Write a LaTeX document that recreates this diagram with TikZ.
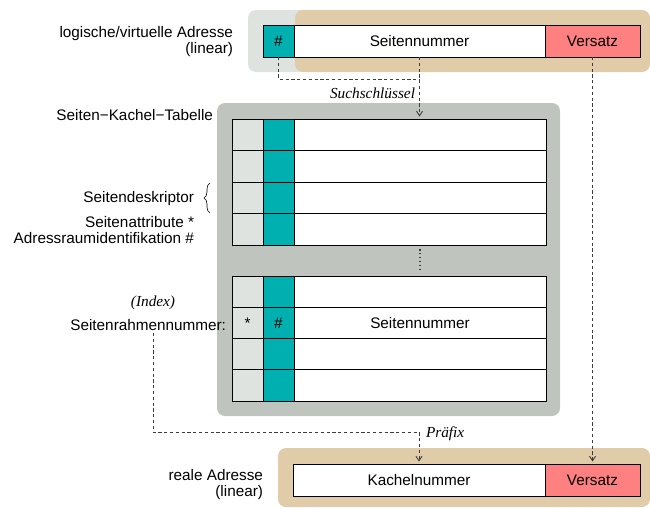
\documentclass[tikz,border=0pt]{standalone}
\usepackage{fontspec}
\setmainfont{Liberation Sans}
\newfontfamily\serifit{Liberation Serif}
\usetikzlibrary{calc,arrows.meta,decorations.pathreplacing}
\definecolor{teal}{HTML}{00AFAF}
\definecolor{salmon}{HTML}{FF8080}
\definecolor{tan}{HTML}{E0CCA8}
\definecolor{tablegray}{HTML}{C0C4BE}
\definecolor{lightgray}{HTML}{DFE3E0}
\definecolor{dashgray}{HTML}{3C3C3C}
\begin{document}
\begin{tikzpicture}[x=1pt,y=-1pt,
  font=\fontsize{15.3}{16}\selectfont,
  cell/.style={draw=black, line width=0.8pt, anchor=north west, inner sep=0pt, outer sep=0pt, minimum height=32pt},
  trow/.style={cell, minimum height=31.5pt},
  lrow/.style={cell, minimum height=31.25pt},
  conn/.style={draw=dashgray, line width=0.9pt, dash pattern=on 3.2pt off 2.6pt},
  tip/.style={-{Straight Barb[length=4.5pt,width=6pt,line width=0.9pt]}, shorten >=2.5pt},
  lbl/.style={inner sep=0pt, outer sep=0pt},
  it/.style={lbl, font=\fontsize{15.3}{16}\selectfont\serifit\itshape}
]
\useasboundingbox (0,0) rectangle (650,507);

% background boxes
\fill[lightgray, rounded corners=8pt] (248,10) rectangle (310,72);
\fill[tan, rounded corners=8pt] (295,10) rectangle (650,72);
\fill[tablegray, rounded corners=8pt] (217,103) rectangle (560,416);
\fill[tan, rounded corners=8pt] (278,448) rectangle (650,507);

% logical address
\node[cell, fill=teal, minimum width=31pt] (aH) at (263,25) {\#};
\node[cell, fill=white, minimum width=251pt] (aS) at (294,25) {Seitennummer};
\node[cell, fill=salmon, minimum width=95pt] (aV) at (545,25) {Versatz};

% upper table group
\foreach \i/\y in {1/119, 2/150.5, 3/182, 4/213.5} {
  \node[trow, fill=lightgray, minimum width=31pt] (u\i a) at (232,\y) {};
  \node[trow, fill=teal, minimum width=31pt] (u\i b) at (263,\y) {};
  \node[trow, fill=white, minimum width=252pt] (u\i c) at (294,\y) {};
}
% lower table group
\foreach \i/\y in {1/276, 2/307.25, 3/338.5, 4/369.75} {
  \node[lrow, fill=lightgray, minimum width=31pt] (l\i a) at (232,\y) {};
  \node[lrow, fill=teal, minimum width=31pt] (l\i b) at (263,\y) {};
  \node[lrow, fill=white, minimum width=252pt] (l\i c) at (294,\y) {};
}
\node at (l2a.center) {*};
\node at (l2b.center) {\#};
\node at (l2c.center) {Seitennummer};

% ellipsis between groups
\draw[dashgray, line width=1.3pt, dash pattern=on 1.5pt off 2.4pt] (u4c.south |- 0,249) -- (u4c.south |- 0,272);

% real address
\node[cell, fill=white, minimum width=252pt] (bK) at (293,464) {Kachelnummer};
\node[cell, fill=salmon, minimum width=95pt] (bV) at (545,464) {Versatz};

% labels
\node[lbl, align=right, anchor=east] (lva) at (233,42) {logische/virtuelle Adresse\\(linear)};
\node[lbl, anchor=east] (skt) at (213,115) {Seiten\textminus Kachel\textminus Tabelle};
\node[lbl, anchor=east] (sd) at (194,199) {Seitendeskriptor};
\draw[line width=0.6pt, decorate, decoration={brace, amplitude=6pt}] (210,213) -- (210,183);
\node[lbl, anchor=east] (sa) at (194,222) {Seitenattribute *};
\node[lbl, anchor=east] (ari) at (194,238) {Adressraumidentifikation \#};
\node[it] (idx) at (153,303) {(Index)};
\node[lbl, anchor=east] (srn) at (226,325) {Seitenrahmennummer:};
\node[lbl, align=right, anchor=east] (ra) at (263,485) {reale Adresse\\(linear)};

% connectors
\draw[conn] (aH.south) |- ($(aS.south)+(0,22)$);
\draw[conn, tip] (aS.south) -- (aS.south |- u1c.north);
\node[it, anchor=east] (such) at (415,93) {Suchschlüssel};
\draw[conn, tip] (aV.south) -- (bV.north);
\coordinate (p0) at (153,333);
\draw[conn, tip] (p0) |- ($(bK.north)+(0,-32)$) -- (bK.north);
\node[it, anchor=west] (praef) at (426,434) {Präfix};
\end{tikzpicture}
\end{document}
